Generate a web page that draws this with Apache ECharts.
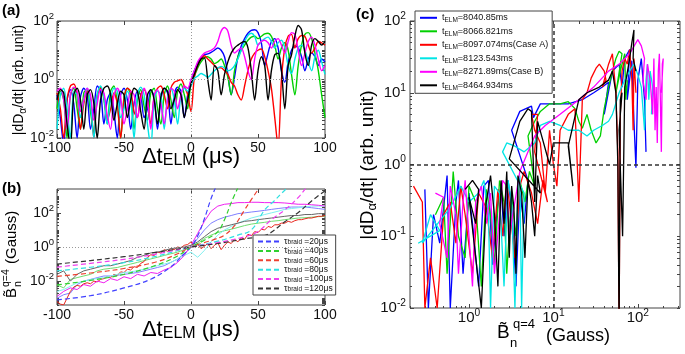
<!DOCTYPE html>
<html>
<head>
<meta charset="utf-8">
<title>ELM dD/dt vs B</title>
<script src="https://cdn.jsdelivr.net/npm/echarts@6.0.0/dist/echarts.min.js"></script>
<style>
  html, body { margin: 0; padding: 0; background: #fff; }
  #chart { width: 685px; height: 354px; }
</style>
</head>
<body>
<div id="chart"></div>
<script>
const F = '"Liberation Sans", Arial, Helvetica, sans-serif'

// ---- panel (a): |dD/dt| vs time, 2.5 us steps ----
const tA = [-100,-97.5,-95,-92.5,-90,-87.5,-85,-82.5,-80,-77.5,-75,-72.5,-70,-67.5,-65,-62.5,-60,-57.5,-55,-52.5,-50,-47.5,-45,-42.5,-40,-37.5,-35,-32.5,-30,-27.5,-25,-22.5,-20,-17.5,-15,-12.5,-10,-7.5,-5,-2.5,0,2.5,5,7.5,10,12.5,15,17.5,20,22.5,25,27.5,30,32.5,35,37.5,40,42.5,45,47.5,50,52.5,55,57.5,60,62.5,65,67.5,70,72.5,75,77.5,80,82.5,85,87.5,90,92.5,95,97.5,100]
const aBlue = [0.3,0.05,0.006,0.2,0.45,0.15,0.01,0.25,0.5,0.3,0.02,0.1,0.6,0.4,0.03,0.2,0.35,0.08,0.01,0.3,0.5,0.2,0.02,0.15,0.4,0.3,0.05,0.1,0.45,0.25,0.02,0.2,0.5,0.35,0.03,0.3,0.55,0.4,0.05,0.3,0.9,
  2,3.5,5.5,7,7.5,8.5,10,12,10,6,1.5,0.3,1.2,6,14,25,38,48,50,40,18,3,8,20,25,12,2,0.8,4,10,14,12,6,2,5,8,6,3,5,4]
const aGreen = [0.1,0.4,0.2,0.01,0.3,0.5,0.1,0.02,0.35,0.45,0.08,0.015,0.3,0.55,0.2,0.03,0.4,0.6,0.15,0.01,0.25,0.5,0.3,0.02,0.2,0.45,0.12,0.04,0.35,0.5,0.1,0.03,0.3,0.6,0.2,0.05,0.4,0.7,0.3,0.1,0.8,
  1.3,2.5,4,5.5,6,5,3.5,4,5,3,1.2,0.3,2,6,10,15,22,28,30,25,30,36,38,30,15,5,12,18,10,1.5,0.3,3,15,35,40,25,8,2,0.3,0.05]
const aRed = [0.35,0.1,0.01,0.2,0.6,0.7,0.3,0.02,0.15,0.4,0.2,0.01,0.25,0.5,0.3,0.04,0.1,0.35,0.15,0.01,0.2,0.5,0.4,0.08,0.05,0.3,0.45,0.2,0.03,0.25,0.5,0.6,0.3,0.1,0.5,0.8,0.9,1.0,0.6,0.3,0.08,
  1.2,3,5,6.5,5,4,3,2.5,2.5,2,1.5,0.8,0.6,0.3,0.2,0.6,2,5,8,10,11,6,2,0.5,0.05,0.005,1,12,30,35,12,25,32,30,15,8,12,20,18,15]
const aCyan = [0.02,0.3,0.5,0.1,0.01,0.4,0.3,0.05,0.2,0.5,0.15,0.01,0.3,0.6,0.25,0.03,0.2,0.5,0.4,0.05,0.1,0.4,0.2,0.01,0.3,0.55,0.3,0.03,0.005,0.2,0.4,0.3,0.02,0.25,0.5,0.2,0.03,0.3,0.5,0.4,0.6,
  1.1,1.3,1.6,1.4,1.2,1.5,2,2.5,2.8,2.5,2,2.2,3,5,10,20,32,38,30,15,20,25,28,20,12,18,22,12,3,1.6,5,12,15,10,4,2,6,10,4,1.5]
const aMagenta = [0.4,0.5,0.2,0.02,0.3,0.55,0.4,0.08,0.2,0.5,0.3,0.04,0.15,0.45,0.35,0.06,0.02,0.3,0.5,0.25,0.03,0.1,0.4,0.3,0.05,0.2,0.5,0.2,0.02,0.3,0.45,0.15,0.03,0.2,0.5,0.4,0.1,0.3,0.6,0.5,1.0,
  2,4,6,8,9,10,12,20,45,60,45,15,8,10,12,6,2,1,5,15,20,22,18,12,20,25,15,8,20,40,35,10,3,8,20,28,15,5,2,3]
const aBlack = [0.2,0.45,0.35,0.03,0.005,0.3,0.5,0.2,0.02,0.3,0.45,0.15,0.01,0.2,0.5,0.6,0.3,0.04,0.15,0.4,0.3,0.05,0.2,0.5,0.4,0.08,0.02,0.3,0.45,0.2,0.03,0.25,0.5,0.4,0.1,0.2,0.45,0.3,0.05,0.2,0.7,
  1.5,3,5,5.5,1,0.2,3,2,0.3,1.5,4,8,12,15,18,20,12,2,0.2,2,6,3,0.2,2,7,8,2,0.1,3,7,30,70,50,8,3,15,25,20,15,20]

// ---- panel (b): B amplitude vs time ----
const tB = [-100,-95,-90,-85,-80,-75,-70,-65,-60,-55,-50,-45,-40,-35,-30,-25,-20,-15,-10,-5,0,5,10,15,20,25,30,35,40,45,50,55,60,65,70,75,80,85,90,95,100]
const bBlue = [0.001,0.0016,0.002,0.0063,0.01,0.0125,0.016,0.02,0.02,0.022,0.025,0.028,0.032,0.04,0.05,0.063,0.08,0.125,0.2,0.4,1.0,
  3.2,10,25,40,56,70,90,100,112,125,140,160,180,200,220,220,220,200,180,160]
const bGreen = [0.006,0.004,0.0125,0.016,0.02,0.025,0.04,0.05,0.056,0.063,0.08,0.1,0.125,0.16,0.2,0.25,0.32,0.4,0.5,0.7,1.0,
  1.6,3.2,5,7,9,11,14,18,22,25,28,32,35,40,45,50,52,56,60,63]
const bCyan = [0.0025,0.0032,0.005,0.008,0.01,0.0125,0.014,0.016,0.02,0.025,0.032,0.035,0.04,0.05,0.063,0.08,0.1,0.125,0.2,0.32,0.5,
  0.25,0.63,2,5,10,16,25,35,50,63,80,100,125,160,180,200,220,250,250,250]
const bMagenta = [0.00126,0.0025,0.004,0.0032,0.0063,0.005,0.01,0.008,0.014,0.011,0.018,0.014,0.025,0.02,0.032,0.028,0.045,0.063,0.125,0.32,1.26,
  6.3,32,125,250,320,350,400,400,420,420,400,400,400,380,350,320,320,300,280,250]
const bGray = [0.025,0.04,0.01,0.025,0.04,0.05,0.063,0.08,0.08,0.1,0.126,0.16,0.25,0.32,0.45,0.5,0.63,0.8,0.9,1.0,1.26,
  2,4,8,12.6,16,20,25,32,35,40,45,50,56,63,70,70,80,80,90,90]
// red one sampled on the 2.5 us base
const bRed = [0.00063,0.00045,0.0004,0.001,0.0025,0.0045,0.0056,0.005,0.007,0.008,0.007,0.01,0.009,0.0126,0.014,0.018,0.016,0.025,0.022,0.035,0.032,0.05,0.045,0.07,0.063,0.11,0.14,0.25,0.35,0.32,0.5,0.45,0.7,0.56,0.8,0.7,1.0,0.9,1.26,1.4,2.0,
  1.1,1.4,0.8,1.1,1.6,0.8,1.26,1.8,0.7,1.26,2,1.6,2.8,2,3.5,2.8,5.6,4.5,8,7,11,10,16,14,20,20,25,25,32,28,35,40,40,45,50,50,56,63,63,70]

// braid model curves [t, B]
const braid20 = [[-100,0.0008],[-75,0.0014],[-50,0.004],[-30,0.013],[-15,0.07],[-5,0.4],[0,1],[5,4.5],[10,45],[15,700],[19,4000]]
const braid40 = [[-100,0.006],[-75,0.011],[-50,0.025],[-25,0.09],[-10,0.3],[0,1],[10,2.5],[20,8],[25,40],[30,400],[35,3000]]
const braid60 = [[-100,0.019],[-75,0.03],[-50,0.055],[-25,0.14],[-10,0.4],[0,1],[10,1.8],[17,2.7],[25,5],[32,16],[40,150],[45,600],[51,3000]]
const braid80 = [[-100,0.04],[-75,0.065],[-50,0.12],[-25,0.3],[0,1],[20,2.2],[35,5],[45,10],[55,150],[62,500],[68,1500],[72,3000]]
const braid100 = [[-100,0.066],[-75,0.11],[-50,0.19],[-25,0.4],[0,1],[20,1.8],[40,4],[50,8],[60,40],[70,150],[80,800],[86,3000]]
const braid120 = [[-100,0.1],[-75,0.16],[-50,0.27],[-25,0.5],[0,1],[20,1.6],[40,3],[56,5],[70,30],[81,120],[90,500],[100,2000]]
const braidLabels = ['=20μs','=40μs','=60μs','=80μs','=100μs','=120μs']

// ---- panel (c): |dD/dt| vs B trajectories [B, dD/dt] ----
const cBlue = [[0.3,0.45],[0.33,0.01],[0.38,0.2],[0.45,0.08],[0.55,0.7],[0.6,0.01],[0.7,0.3],[0.75,0.6],[0.85,0.03],[1.0,0.4],[1.1,0.15],[1.3,0.02],[1.5,0.5],[1.7,0.6],[1.9,0.04],[2.2,0.3],[2.4,0.5],[2.6,0.1],[2.9,0.6],[3.2,0.25],[3.6,0.02],[4.0,0.4],[4.5,0.15],[5.0,0.6],
  [3.2,3.0],[4.0,5.5],[5.5,6.5],[5.8,4.5],[7,7],[15,7],[22,8],[30,10],[38,12],[45,14],[40,5],[50,20],[60,25],[65,12],[70,30],[80,40],[75,8],[85,28],[90,4],[95,0.9],[100,15],[110,30],[120,8],[125,1.5]]
const cGreen = [[0.4,0.2],[0.5,0.35],[0.55,0.03],[0.65,0.8],[0.75,0.1],[0.9,0.05],[1.0,0.5],[1.2,0.3],[1.4,0.02],[1.6,0.45],[1.8,0.2],[2.0,0.04],[2.3,0.6],[2.6,0.3],[2.8,0.03],[3.2,0.4],[3.6,0.1],[4.0,0.6],[4.6,0.3],[5.2,0.8],[6,0.5],
  [5,2.5],[6,4],[7,5.5],[9,7],[12,7],[15,7.5],[18,6],[20,4],[22,3.2],[25,5],[28,3],[32,2],[36,2.5],[40,6],[45,12],[50,20],[55,30],[60,38],[65,35],[55,10],[62,20],[70,35],[72,8],[75,15]]
const cRed = [[0.22,0.5],[0.28,0.3],[0.3,0.01],[0.35,0.05],[0.42,0.01],[0.5,0.2],[0.6,0.3],[0.7,0.08],[0.8,0.5],[0.9,0.2],[1.1,0.03],[1.3,0.4],[1.6,0.25],[1.9,0.05],[2.2,0.45],[2.5,0.1],[2.8,0.6],[3.0,0.3],[3.5,0.05],[4.0,0.5],[4.5,0.8],[5.5,0.4],[6.5,0.15],[7.5,0.6],[8.5,0.3],
  [6,1.5],[6.5,5],[5.5,5],[6,3],[7,2],[8,0.4],[9,3],[10,1],[11,0.5],[12,3],[15,5],[18,6],[20,0.3],[22,8],[25,10],[28,16],[32,22],[35,25],[40,20],[42,15],[38,12],[45,25],[50,35],[55,10],[58,1.5],[60,0.005],[62,5],[65,20],[70,30],[75,25],[80,40],[85,15],[88,3],[90,30],[95,10]]
const cCyan = [[0.25,0.08],[0.45,0.12],[0.35,0.2],[0.28,0.08],[0.6,0.25],[0.8,0.5],[1.0,0.3],[1.3,0.4],[1.5,0.6],[1.7,0.2],[1.8,0.01],[2.0,0.5],[2.3,0.4],[2.6,0.02],[2.9,0.6],[3.2,0.3],[3.5,0.01],[3.8,0.5],[4.0,0.7],[4.2,0.01],[4.5,0.4],
  [2.5,1.5],[2.8,2],[3.5,1.8],[4.5,1.5],[6,2],[7,3.5],[9,4],[12,3.5],[15,3],[20,3],[25,2.5],[30,3],[38,3.5],[45,4],[50,5],[60,10],[70,15],[80,20],[90,25],[100,18],[110,12],[115,6],[120,3],[125,15],[130,25],[135,8],[140,20],[150,12],[145,5]]
const cMagenta = [[0.4,0.4],[0.5,0.35],[0.45,0.15],[0.55,0.05],[0.6,0.5],[0.7,0.2],[0.75,0.03],[0.85,0.3],[0.9,0.6],[1.0,0.1],[1.1,0.02],[1.2,0.3],[1.4,0.5],[1.6,0.15],[1.8,0.4],[2.0,0.03],[2.3,0.2],[2.5,0.6],[2.8,0.5],[3.0,0.1],
  [4,0.8],[5,1.5],[6,2.5],[8,3.5],[12,5],[20,8],[30,12],[45,20],[60,25],[80,35],[100,55],[110,45],[120,30],[115,15],[125,8],[130,25],[140,15],[150,5],[155,30],[160,3],[165,12],[170,2],[175,20],[180,35],[185,8],[190,1.5],[195,25],[200,30],[190,10]]
const cBlack = [[0.9,0.45],[1.1,0.6],[1.3,0.45],[1.2,0.15],[1.0,0.35],[1.4,0.01],[1.6,0.3],[1.8,0.7],[2.0,0.2],[2.2,0.02],[2.4,0.6],[2.6,0.15],[2.8,0.8],[3.0,0.05],[3.2,0.5],[3.4,0.25],[3.6,0.03],[3.8,0.7],[4.2,0.4],[4.6,0.05],[5,0.6],[5.5,0.3],[6,0.1],[6.5,0.7],[7,0.4],
  [3,1.2],[4,4],[5,6],[5.5,5.5],[6,0.3],[6.5,4],[9,1],[10,2],[15,2],[17,0.5],[15,1.8],[20,8],[25,10],[35,12],[45,15],[50,20],[55,10],[58,1],[60,0.005],[62,8],[65,10],[60,3],[66,0.1],[70,12],[80,30],[85,50],[90,75],[88,30],[95,20]]
const elmLabels = ['=8040.85ms','=8066.821ms','=8097.074ms(Case A)','=8123.543ms','=8271.89ms(Case B)','=8464.934ms']

const ticksT = [-100, -50, 0, 50, 100]
const ticksAB = [0.01, 1, 100]
const ticksCy = [0.01, 0.1, 1, 10, 100]
const ticksCx = [1, 10, 100]

const colors = ['#0000ff', '#00d000', '#ff0000', '#00e5e5', '#ff00ff', '#000000']
const namesB = braidLabels.map(s => 'τbraid' + s)
const namesC = elmLabels.map(s => 'tELM' + s)

const pairs = (t, v) => t.map((x, i) => [x, v[i]])
const logFmt = v => '{b|10}{s|' + Math.round(Math.log10(v)) + '}'
// minor tick positions 2..9 x 10^e
const logMinors = (lo, hi) => {
  const out = []
  for (let e = lo; e < hi; e++) for (let k = 2; k <= 9; k++) out.push(+(k * Math.pow(10, e)).toPrecision(3))
  return out
}
const tickRich = (fs) => ({
  b: {fontSize: fs, fontFamily: F, color: '#111', lineHeight: 20},
  s: {fontSize: fs * 0.68, fontFamily: F, color: '#111', lineHeight: 10, verticalAlign: 'top'}
})
const tickLine = {color: '#444', width: 1}
const noLine = {show: false, onZero: false}

const valX = (g) => ({
  type: 'value', gridIndex: g, min: -100, max: 100, interval: 50,
  axisLine: noLine, splitLine: {show: false},
  axisTick: {inside: true, length: 4, lineStyle: tickLine},
  axisLabel: {fontFamily: F, fontSize: 14, color: '#111', margin: 3}
})
const logAx = (g, min, max, vals, fs, margin) => ({
  type: 'log', logBase: 10, gridIndex: g, min, max,
  axisLine: noLine, splitLine: {show: false},
  axisTick: {inside: true, length: 4, customValues: vals, lineStyle: tickLine},
  axisLabel: {customValues: vals, formatter: logFmt, margin, rich: tickRich(fs)}
})
// tick-only companion axes (box ticks on every side, log minor ticks)
const tickAx = (type, g, min, max, position, vals, len) => ({
  type, gridIndex: g, min, max, position,
  axisLine: noLine, splitLine: {show: false}, axisLabel: {show: false},
  axisTick: {inside: true, length: len, customValues: vals, lineStyle: tickLine}
})

const yMinB = Math.pow(10, -3.4), yMaxB = Math.pow(10, 3.4)
const minorsA = logMinors(-2, 2).concat([0.1, 10])
const minorsB = logMinors(-4, 4).concat([0.001, 0.1, 10, 1000])
const minorsCx = logMinors(-1, 3)
const minorsCy = logMinors(-2, 2)

const dotted = {color: '#999', type: [1, 2], width: 1}
const seriesA = [aBlue, aGreen, aRed, aCyan, aMagenta, aBlack].map((v, i) => ({
  type: 'line', xAxisIndex: 0, yAxisIndex: 0, data: pairs(tA, v),
  symbol: 'none', smooth: 0.3, lineStyle: {color: colors[i], width: 1.4}, itemStyle: {color: colors[i]},
  markLine: i === 0 ? {silent: true, symbol: 'none', label: {show: false}, lineStyle: dotted, data: [{yAxis: 1}, {xAxis: 0}]} : undefined
}))

const solidB = [
  {t: tB, v: bBlue, c: '#8080ff'},
  {t: tB, v: bGreen, c: '#70dd70'},
  {t: tA, v: bRed, c: '#e8261e'},
  {t: tB, v: bCyan, c: '#80f0f0'},
  {t: tB, v: bMagenta, c: '#f020f0'},
  {t: tB, v: bGray, c: '#666666'}
]
const seriesBs = solidB.map((s, i) => ({
  type: 'line', xAxisIndex: 1, yAxisIndex: 1, data: pairs(s.t, s.v),
  symbol: 'none', lineStyle: {color: s.c, width: 1}, itemStyle: {color: s.c},
  markLine: i === 0 ? {silent: true, symbol: 'none', label: {show: false}, lineStyle: dotted, data: [{yAxis: 1}, {xAxis: 0}]} : undefined
}))
const dashColors = ['#4040ff', '#30d030', '#ee4030', '#30e0e0', '#f040f0', '#333333']
const seriesBd = [braid20, braid40, braid60, braid80, braid100, braid120].map((d, i) => ({
  name: namesB[i], type: 'line', xAxisIndex: 1, yAxisIndex: 1, data: d, smooth: 0.4,
  symbol: 'none', lineStyle: {color: dashColors[i], width: 1.2, type: [5, 3]}, itemStyle: {color: dashColors[i]}
}))

const seriesC = [cBlue, cGreen, cRed, cCyan, cMagenta, cBlack].map((d, i) => ({
  name: namesC[i], type: 'line', xAxisIndex: 2, yAxisIndex: 2, data: d,
  symbol: 'none', lineStyle: {color: colors[i], width: 1.3}, itemStyle: {color: colors[i]},
  markLine: i === 0 ? {silent: true, symbol: 'none', label: {show: false}, z: 10,
    lineStyle: {color: '#333', type: [4, 3], width: 1.5}, data: [{yAxis: 1}, {xAxis: 10}]} : undefined
}))

const txt = (x, y, text, extra) => ({type: 'text', x, y, z: 100, ...extra,
  style: {text, fontFamily: F, fill: '#000', verticalAlign: 'middle', ...(extra && extra.style)}})

const chart = echarts.init(document.getElementById('chart'))
chart.setOption({
  animation: false,
  backgroundColor: '#fff',
  grid: [
    {left: 57, top: 21, width: 268, height: 117, show: true, borderColor: '#444', borderWidth: 1},
    {left: 57, top: 189, width: 268, height: 116, show: true, borderColor: '#444', borderWidth: 1},
    {left: 410, top: 21, width: 270, height: 287, show: true, borderColor: '#444', borderWidth: 1}
  ],
  xAxis: [
    valX(0), valX(1),
    logAx(2, 0.2, 316, ticksCx, 15, 0),
    tickAx('value', 0, -100, 100, 'top', ticksT, 4),
    tickAx('value', 1, -100, 100, 'top', ticksT, 4),
    tickAx('log', 2, 0.2, 316, 'bottom', minorsCx, 2),
    tickAx('log', 2, 0.2, 316, 'top', ticksCx.concat(minorsCx), 3)
  ],
  yAxis: [
    logAx(0, 0.01, 100, ticksAB, 14, 3),
    logAx(1, yMinB, yMaxB, ticksAB, 14, 3),
    logAx(2, 0.01, 100, ticksCy, 15, 4),
    tickAx('log', 0, 0.01, 100, 'left', minorsA, 2),
    tickAx('log', 0, 0.01, 100, 'right', ticksAB.concat(minorsA), 3),
    tickAx('log', 1, yMinB, yMaxB, 'left', minorsB, 2),
    tickAx('log', 1, yMinB, yMaxB, 'right', ticksAB.concat(minorsB), 3),
    tickAx('log', 2, 0.01, 100, 'left', minorsCy, 2),
    tickAx('log', 2, 0.01, 100, 'right', ticksCy.concat(minorsCy), 3)
  ],
  legend: [
    {
      data: namesB, selectedMode: false, orient: 'vertical', left: 253, top: 235,
      padding: [2, 3, 2, 4], itemGap: 0.4, itemWidth: 21, itemHeight: 9,
      backgroundColor: '#fff', borderColor: '#444', borderWidth: 1,
      itemStyle: {opacity: 0},
      formatter: name => '{t|τ}{s|braid}{v| ' + name.slice(6) + '}',
      textStyle: {fontFamily: F, color: '#111', rich: {
        t: {fontSize: 9, lineHeight: 9, fontFamily: F},
        s: {fontSize: 6.5, lineHeight: 3, verticalAlign: 'bottom', fontFamily: F},
        v: {fontSize: 8.5, lineHeight: 9, fontFamily: F}
      }}
    },
    {
      data: namesC, selectedMode: false, orient: 'vertical', left: 415, top: 11,
      padding: [2, 4, 2, 4], itemGap: 2.7, itemWidth: 17, itemHeight: 12,
      backgroundColor: '#fff', borderColor: '#444', borderWidth: 1,
      itemStyle: {opacity: 0},
      formatter: name => '{v|t}{s|ELM}{v|' + name.slice(4) + '}',
      textStyle: {fontFamily: F, color: '#111', rich: {
        v: {fontSize: 9, lineHeight: 12, fontFamily: F},
        s: {fontSize: 6.5, lineHeight: 4, verticalAlign: 'bottom', fontFamily: F}
      }}
    }
  ],
  graphic: [
    txt(2, 11, '(a)', {style: {fontSize: 15, fontWeight: 'bold'}}),
    txt(2, 189, '(b)', {style: {fontSize: 15, fontWeight: 'bold'}}),
    txt(356, 15, '(c)', {style: {fontSize: 15, fontWeight: 'bold'}}),
    txt(19, 80, '{m||dD}{s|α}{m|/dt| (arb. unit)}', {rotation: Math.PI / 2, style: {align: 'center',
      rich: {m: {fontSize: 14, lineHeight: 18, fontFamily: F}, s: {fontSize: 10, lineHeight: 4, verticalAlign: 'bottom', fontFamily: F}}}}),
    txt(191, 157, '{m|Δt}{s|ELM}{m| (μs)}', {style: {align: 'center',
      rich: {m: {fontSize: 22, lineHeight: 24, fontFamily: F}, s: {fontSize: 16, lineHeight: 2, verticalAlign: 'bottom', fontFamily: F}}}}),
    txt(191, 330, '{m|Δt}{s|ELM}{m| (μs)}', {style: {align: 'center',
      rich: {m: {fontSize: 22, lineHeight: 24, fontFamily: F}, s: {fontSize: 16, lineHeight: 2, verticalAlign: 'bottom', fontFamily: F}}}}),
    {type: 'group', x: 12, y: 298, rotation: Math.PI / 2, z: 100, children: [
      {type: 'text', x: 0, y: 0, style: {text: 'B\u0303', fontSize: 15, fontFamily: F, fill: '#000', verticalAlign: 'middle'}},
      {type: 'text', x: 11, y: -6, style: {text: 'q=4', fontSize: 10.5, fontFamily: F, fill: '#000', verticalAlign: 'middle'}},
      {type: 'text', x: 11, y: 6, style: {text: 'n', fontSize: 10.5, fontFamily: F, fill: '#000', verticalAlign: 'middle'}},
      {type: 'text', x: 34, y: 0, style: {text: '(Gauss)', fontSize: 15, fontFamily: F, fill: '#000', verticalAlign: 'middle'}}
    ]},
    {type: 'group', x: 497, y: 333, z: 100, children: [
      {type: 'text', x: 0, y: 0, style: {text: 'B\u0303', fontSize: 19, fontFamily: F, fill: '#000', verticalAlign: 'middle'}},
      {type: 'text', x: 16, y: -9, style: {text: 'q=4', fontSize: 13, fontFamily: F, fill: '#000', verticalAlign: 'middle'}},
      {type: 'text', x: 13, y: 10, style: {text: 'n', fontSize: 13, fontFamily: F, fill: '#000', verticalAlign: 'middle'}},
      {type: 'text', x: 49, y: 3, style: {text: '(Gauss)', fontSize: 18, fontFamily: F, fill: '#000', verticalAlign: 'middle'}}
    ]},
    txt(368, 165, '{m||dD}{s|α}{m|/dt| (arb. unit)}', {rotation: Math.PI / 2, style: {align: 'center',
      rich: {m: {fontSize: 19, lineHeight: 22, fontFamily: F}, s: {fontSize: 13, lineHeight: 4, verticalAlign: 'bottom', fontFamily: F}}}})
  ],
  series: [...seriesA, ...seriesBs, ...seriesBd, ...seriesC]
})
window.addEventListener('resize', () => chart.resize())
</script>
</body>
</html>
